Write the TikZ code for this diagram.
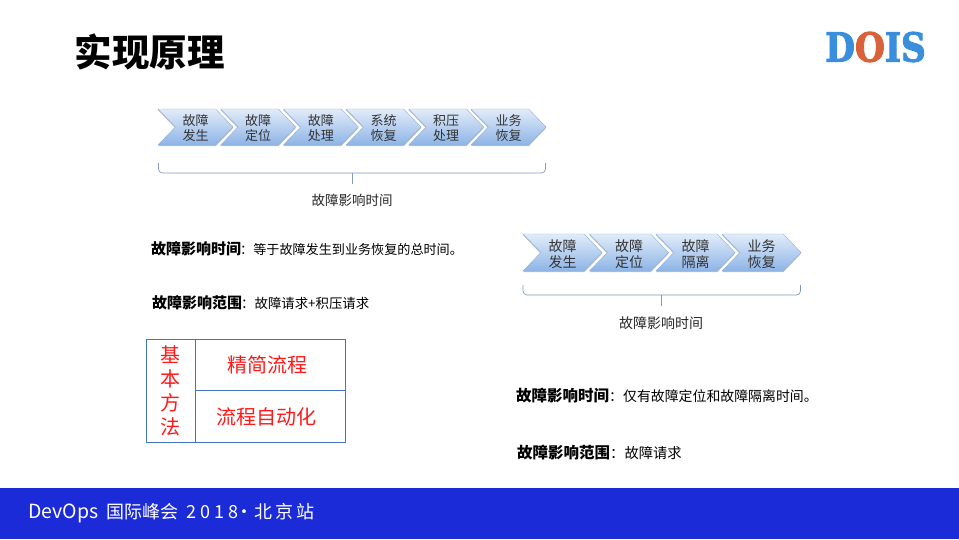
\documentclass[tikz,border=0pt]{standalone}
\usepackage{fontspec}
\setmainfont{Noto Sans CJK SC}
\newfontfamily\logofont[BoldFeatures={FakeBold=2.5}]{DejaVu Serif}
\usetikzlibrary{positioning, calc, shapes.symbols, shadows}
\definecolor{bandblue}{HTML}{1C2BD8}
\definecolor{tableblue}{HTML}{4472C4}
\definecolor{logoblue}{HTML}{3A8FDC}
\definecolor{logored}{HTML}{D9623A}
\definecolor{bracecol}{HTML}{7F9BC0}
\definecolor{chevtop}{HTML}{E2ECF9}
\definecolor{chevbot}{HTML}{8DB4E6}
\definecolor{chevline}{HTML}{8FB0DA}
\tikzset{
    % Define style for the process arrows
    chev/.style={
           signal, signal to=east, signal from=west,
           signal pointer angle=92,
           draw=chevline, thin,
           top color=chevtop, bottom color=chevbot,
           drop shadow={shadow xshift=0pt, shadow yshift=-1.2pt, opacity=.25, fill=black},
           inner sep=0pt, outer sep=0pt,
           align=center, text=black!80},
    chevsmall/.style={chev, minimum width=75, minimum height=36,
           font=\fontsize{13}{15}\selectfont, text height=29pt},
    chevbig/.style={chev, minimum width=79, minimum height=37,
           font=\fontsize{14}{16}\selectfont, text height=32pt},
    % Define style for brackets
    bracket/.style={draw=bracecol, line width=.7pt, rounded corners=4},
    timetext/.style={text=black!85, inner sep=0pt},
    explain/.style={anchor=west, inner sep=0pt},
    cell/.style={draw=tableblue, thick, inner sep=0pt, anchor=north west, align=center,
           text=red!90!white, font=\fontsize{20}{24}\selectfont},
}
\newcommand{\keyterm}[2][15]{{\fontsize{#1}{15}\selectfont\bfseries #2}}
\begin{document}
\begin{tikzpicture}[x=1pt, y=-1pt]
	\useasboundingbox (0,0) rectangle (959,539);
	\fill[white] (0,0) rectangle (959,539);
	%
	% titre
	%
	\node[anchor=west, inner sep=0pt, font=\fontsize{37.5}{37}\selectfont\bfseries] (title) at (74.5,52) {实现原理};
	\node[inner sep=0pt, font=\fontsize{40}{40}\selectfont\logofont\bfseries, xscale=.86, text=logoblue] (logo) at (875.5,47) {D\textcolor{logored}{O}IS};
	%
	% first chain
	%
	\node[chevsmall] (occur) at (195.5,127) {故障\\发生};
	\node[chevsmall] (locate) at (258.2,127) {故障\\定位};
	\node[chevsmall] (handle) at (320.9,127) {故障\\处理};
	\node[chevsmall] (restore) at (383.5,127) {系统\\恢复};
	\node[chevsmall] (backlog) at (446.2,127) {积压\\处理};
	\node[chevsmall] (service) at (508.5,127) {业务\\恢复};
	\coordinate (braceA) at (352,173);
	\coordinate (stemA) at (352,184);
	\draw[bracket] (158.5,163) -- (158.5,173) -- (braceA) -- (545.5,173) -- (545.5,163);
	\draw[bracket] (braceA) -- (stemA);
	\node[timetext, font=\fontsize{13.5}{15}\selectfont] (timeA) at (352,200.5) {故障影响时间};
	%
	% second chain
	%
	\node[chevbig] (occurB) at (562.5,252.5) {故障\\发生};
	\node[chevbig] (locateB) at (629,252.5) {故障\\定位};
	\node[chevbig] (isolate) at (695.5,252.5) {故障\\隔离};
	\node[chevbig] (serviceB) at (761.5,252.5) {业务\\恢复};
	\coordinate (braceB) at (661,295);
	\coordinate (stemB) at (661,306);
	\draw[bracket] (523,285) -- (523,295) -- (braceB) -- (800.5,295) -- (800.5,285);
	\draw[bracket] (braceB) -- (stemB);
	\node[timetext, font=\fontsize{14}{16}\selectfont] (timeB) at (661,323.5) {故障影响时间};
	%
	% textes
	%
	\node[explain, font=\fontsize{13.1}{15}\selectfont] (defA) at (151,248.7) {\keyterm{故障影响时间}\hspace{-1pt}：等于故障发生到业务恢复的总时间。};
	\node[explain, font=\fontsize{13.4}{15}\selectfont] (scopeA) at (152,302.7) {\keyterm{故障影响范围}\hspace{-1pt}：故障请求+积压请求};
	\node[explain, font=\fontsize{13.9}{15}\selectfont] (defB) at (516,395.7) {\keyterm[15.5]{故障影响时间}：仅有故障定位和故障隔离时间。};
	\node[explain, font=\fontsize{14.3}{15}\selectfont] (scopeB) at (517,452.7) {\keyterm[15.5]{故障影响范围}：故障请求};
	%
	% tableau
	%
	\node[cell, minimum width=49, minimum height=103] (method) at (146,339) {基\\本\\方\\法\hspace{1pt}};
	\node[cell, minimum width=150, minimum height=51] (simplify) at (195,339) {精简流程\hspace{6pt}};
	\node[cell, minimum width=150, minimum height=52] (automate) at (195,390) {流程自动化\hspace{8pt}};
	%
	% bandeau
	%
	\fill[bandblue] (0,488) rectangle (959,539);
	\node[anchor=west, inner sep=0pt, text=white, font=\fontsize{18}{20}\selectfont] (event) at (28,513.5) {{\fontsize{19.5}{20}\selectfont DevOps}\hspace{8pt}国际峰会\hspace{8pt}2\hspace{4pt}0\hspace{4pt}1\hspace{4pt}8\hspace{-3pt}·\hspace{1pt}北\hspace{3pt}京\hspace{3pt}站};
\end{tikzpicture}
\end{document}
